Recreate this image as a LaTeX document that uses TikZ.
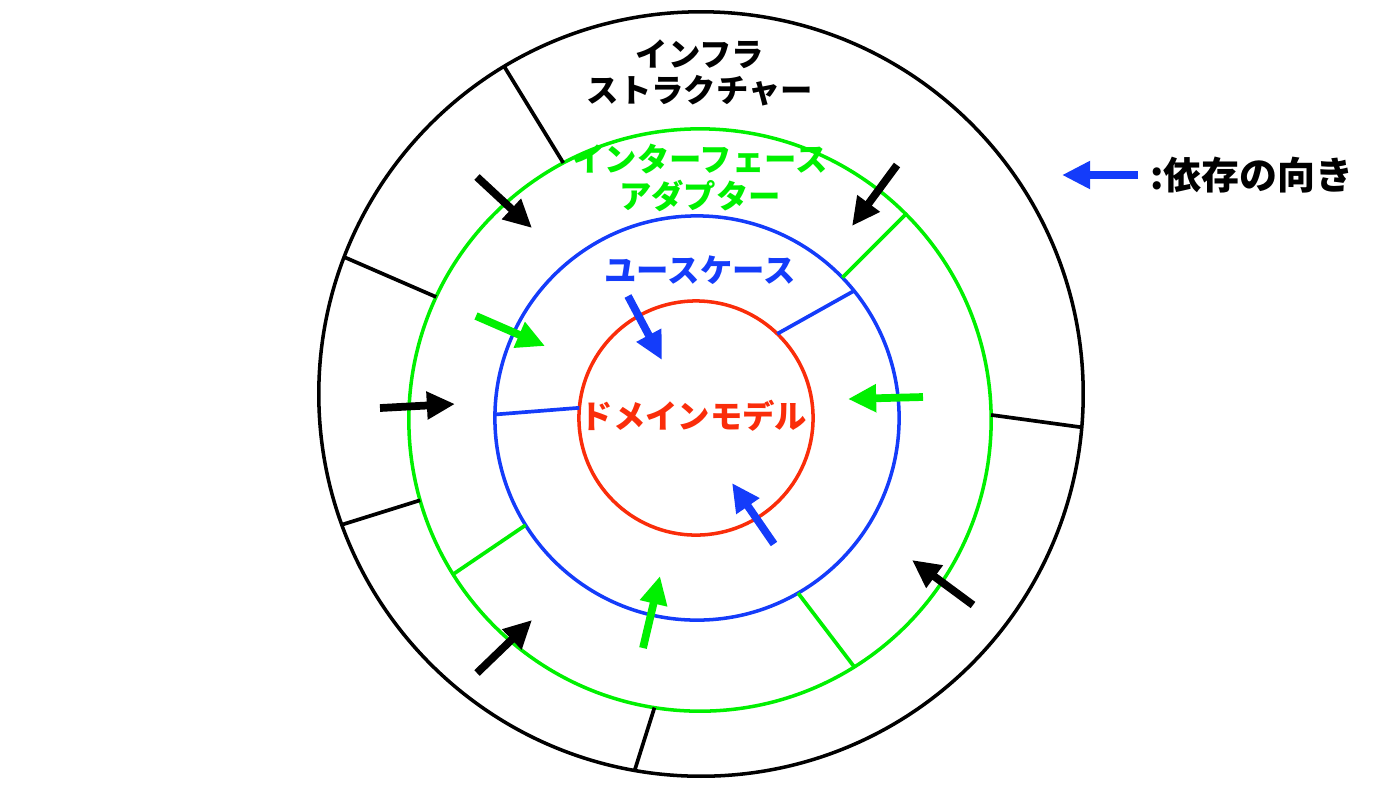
\documentclass[tikz,border=0pt]{standalone}
\usepackage{fontspec}
\setmainfont{Noto Sans CJK JP}
\definecolor{ringgreen}{RGB}{0,240,0}
\definecolor{ringblue}{RGB}{20,60,250}
\definecolor{ringred}{RGB}{250,45,10}
\usetikzlibrary{arrows.meta}

\begin{document}
\begin{tikzpicture}[x=0.01cm, y=-0.01cm,
    ring/.style={circle, draw, line width=1pt, inner sep=0pt, outer sep=0pt},
    wall/.style={line width=1.05pt},
    dep/.style={line width=2.2pt, -{Triangle[length=8pt, width=7.5pt]}},
    ringtext/.style={font=\bfseries\fontsize{9.2}{10.4}\selectfont, align=center}]
    \useasboundingbox (0,0) rectangle (1400,787);
    \node[ring, minimum size=7.64cm] (infra) at (701,394) {};
    \node[ring, draw=ringgreen, minimum size=5.82cm] (adapter) at (700,420) {};
    \node[ring, draw=ringblue, minimum size=4.04cm] (usecase) at (697,418) {};
    \node[ring, draw=ringred, minimum size=2.34cm] (domain) at (696,418) {};
    \foreach \o/\i in {121/118, 159/155, 200/196, 260/261, 355/1}
        \draw[wall] (infra.\o) -- (adapter.\i);
    \foreach \o/\i in {45/44, 212/212, 302/300}
        \draw[wall, ringgreen] (adapter.\o) -- (usecase.\i);
    \foreach \o/\i in {39/46, 179/175}
        \draw[wall, ringblue] (usecase.\o) -- (domain.\i);
    \foreach \xa/\ya/\xb/\yb in {477/177/532/228, 897/165/852/226, 380/408/455/404, 477/673/532/620, 973/605/912/560}
        \draw[dep] (\xa,\ya) -- (\xb,\yb);
    \foreach \xa/\ya/\xb/\yb in {476/316/545/346, 923/397/848/399, 643/648/660/576}
        \draw[dep, ringgreen] (\xa,\ya) -- (\xb,\yb);
    \foreach \xa/\ya/\xb/\yb in {628/296/662/360, 774/544/732/483}
        \draw[dep, ringblue] (\xa,\ya) -- (\xb,\yb);
    \node[ringtext] (infratext) at (700,73) {インフラ\\ストラクチャー};
    \node[ringtext, text=ringgreen] (adaptertext) at (700,178) {インターフェース\\アダプター};
    \node[ringtext, text=ringblue] (usecasetext) at (700,270) {ユースケース};
    \node[ringtext, text=ringred] (domaintext) at (694,416) {ドメインモデル};
    \draw[dep, ringblue] (1138,175) -- (1062,175);
    \node[ringtext, anchor=west, font=\bfseries\fontsize{10.8}{12}\selectfont] (legend) at (1138,175) {:依存の向き};
\end{tikzpicture}
\end{document}
